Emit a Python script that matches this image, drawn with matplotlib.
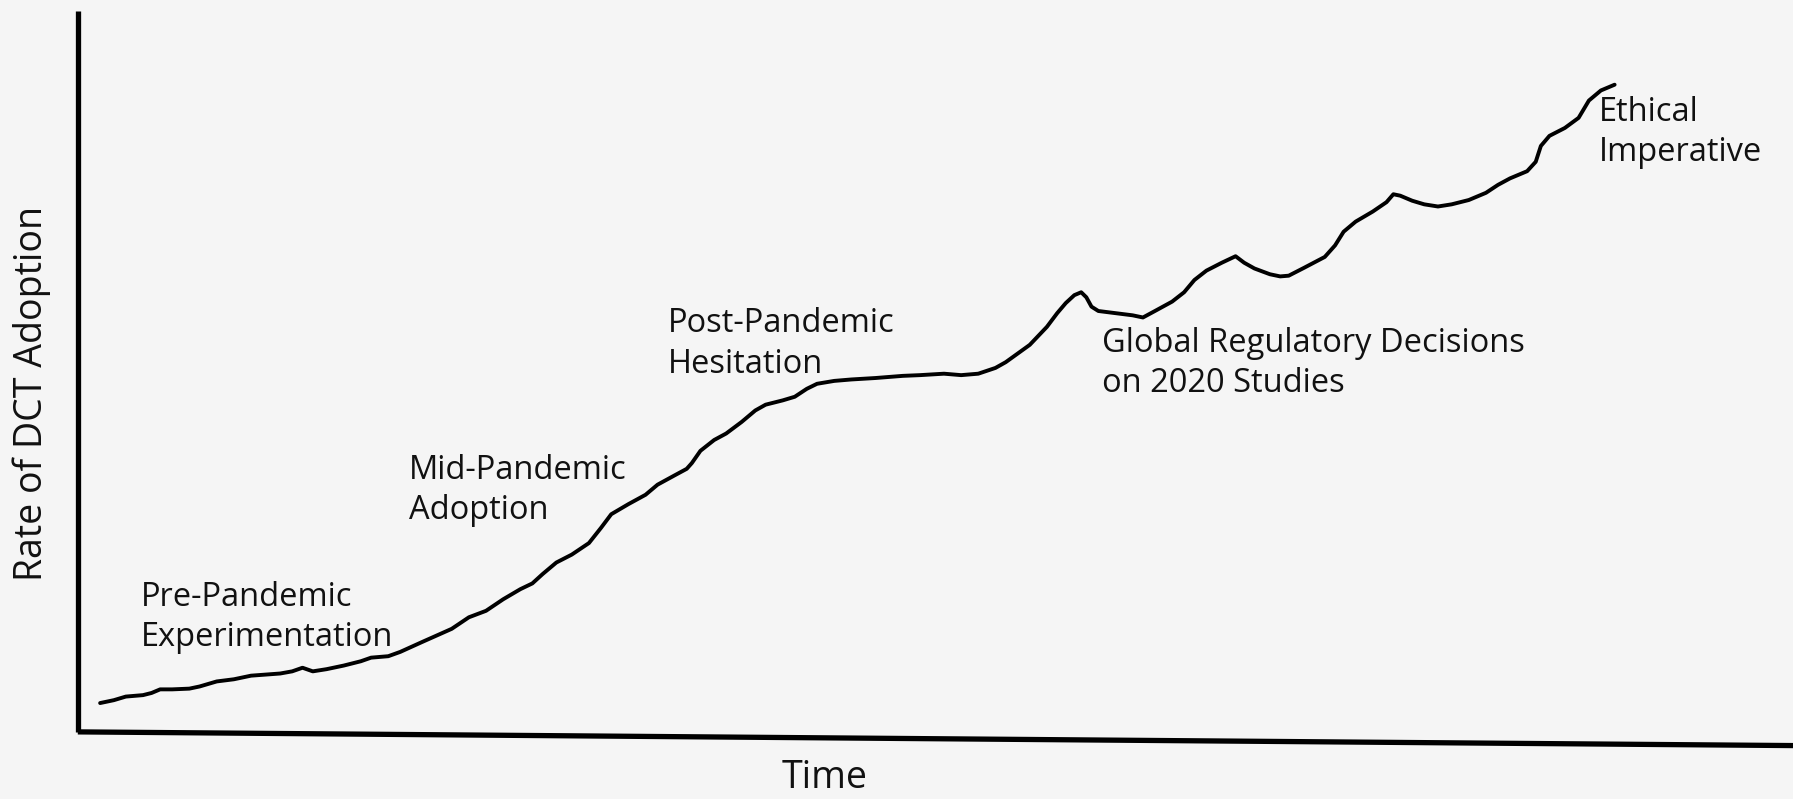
import numpy as np
import matplotlib
matplotlib.use("Agg")
import matplotlib.pyplot as plt

plt.rcParams['font.family'] = ['Open Sans', 'DejaVu Sans']

# hand-drawn adoption curve (time and adoption in arbitrary units)
time = [1.3, 2.1, 2.8, 3.8, 4.3, 4.8, 5.5, 6.5, 7.1, 8.1, 9.1, 10.1, 11.8, 12.5,
        13.1, 13.7, 14.5, 15.5, 16.5, 17.1, 18.1, 18.8, 20.1, 21.8, 22.8, 23.8,
        24.8, 25.8, 26.5, 27.1, 27.9, 28.8, 29.8, 30.5, 31.1, 32.1, 33.1, 33.8,
        34.8, 35.5, 35.8, 36.3, 37.1, 37.8, 38.7, 39.5, 40.1, 41.1, 41.8, 42.5,
        43.1, 44.1, 45.1, 46.5, 48.1, 49.1, 50.5, 51.5, 52.5, 53.5, 54.1, 55.5,
        56.5, 57.1, 57.6, 58.1, 58.5, 58.8, 59.1, 59.5, 60.5, 61.5, 62.1, 62.8,
        63.8, 64.5, 65.1, 65.8, 66.7, 67.5, 68.0, 68.6, 69.5, 70.1, 70.6, 71.5,
        72.7, 73.3, 73.8, 74.5, 75.5, 76.3, 76.7, 77.1, 77.8, 78.5, 79.3, 80.1,
        81.1, 82.1, 82.8, 83.5, 84.5, 85.0, 85.3, 85.8, 86.7, 87.5, 88.1, 88.8,
        89.6]
adoption = [4.0, 4.4, 4.9, 5.1, 5.4, 5.9, 5.9, 6.0, 6.3, 7.0, 7.3, 7.8, 8.1, 8.4,
            8.9, 8.4, 8.7, 9.2, 9.8, 10.3, 10.5, 11.1, 12.5, 14.3, 15.9, 16.8,
            18.4, 19.8, 20.6, 21.9, 23.5, 24.6, 26.2, 28.3, 30.2, 31.6, 32.9,
            34.3, 35.6, 36.5, 37.3, 39.0, 40.5, 41.4, 43.0, 44.6, 45.4, 46.0,
            46.5, 47.6, 48.3, 48.7, 48.9, 49.1, 49.4, 49.5, 49.7, 49.5, 49.7,
            50.5, 51.3, 53.7, 56.2, 58.1, 59.5, 60.6, 61.0, 60.3, 59.0, 58.4,
            58.1, 57.8, 57.5, 58.4, 59.7, 61.0, 62.7, 64.0, 65.1, 66.0, 65.1,
            64.3, 63.5, 63.2, 63.3, 64.4, 65.9, 67.5, 69.4, 70.8, 72.2, 73.5,
            74.6, 74.4, 73.7, 73.2, 72.9, 73.2, 73.8, 74.8, 75.9, 76.8, 77.8,
            79.1, 81.3, 82.7, 83.8, 85.2, 87.6, 89.0, 89.8]

phase_labels = ['Pre-Pandemic\nExperimentation', 'Mid-Pandemic\nAdoption',
                'Post-Pandemic\nHesitation', 'Global Regulatory Decisions\non 2020 Studies',
                'Ethical\nImperative']
label_time = [3.7, 19.3, 34.4, 59.7, 88.7]
label_adoption = [15.9, 33.5, 53.8, 51.1, 83.2]

bg = '#f5f5f5'
fig = plt.figure(figsize=(17.93, 7.99), dpi=100, facecolor=bg)
ax = fig.add_axes([0.0434, 0.084, 0.9566, 0.902])
ax.set_facecolor(bg)
ax.set_xlim(0, 100)
ax.set_ylim(0, 100)
for s in ax.spines.values():
    s.set_visible(False)
ax.set_xticks([])
ax.set_yticks([])

# sketchy axes: upright y axis, slightly sloping x axis
ax.plot([0, 0], [0, 1], transform=ax.transAxes, color='black', lw=3.8,
        solid_capstyle='butt', clip_on=False)
ax.plot([0, 1], [0, -0.019], transform=ax.transAxes, color='black', lw=3.8,
        solid_capstyle='butt', clip_on=False)

ax.plot(time, adoption, color='black', lw=2.8, solid_capstyle='round',
        solid_joinstyle='round')

for txt, tx, ty in zip(phase_labels, label_time, label_adoption):
    ax.text(tx, ty, txt, fontsize=23.5, ha='left', va='center', linespacing=1.3,
            color='#111111')

fig.text(0.0175, 0.507, 'Rate of DCT Adoption', rotation=90, fontsize=27,
         ha='center', va='center', color='#111111')
fig.text(0.46, 0.026, 'Time', fontsize=27, ha='center', va='center',
         color='#111111')

fig.savefig('out.png', dpi=100, facecolor=bg)
